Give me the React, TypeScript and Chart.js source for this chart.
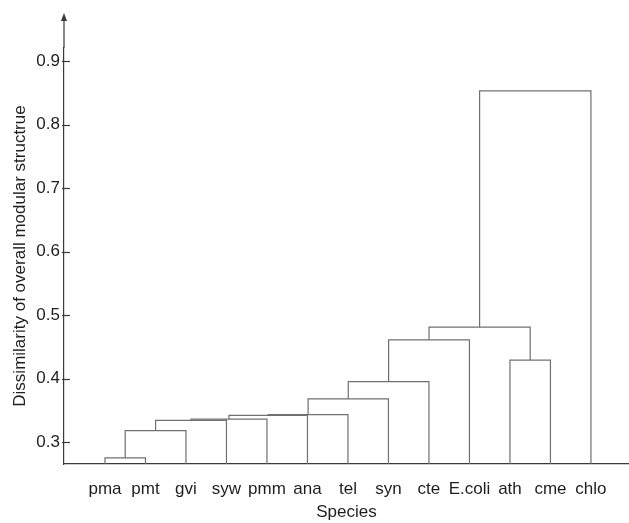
import { useEffect, useRef } from "react";
import { Chart, registerables } from "chart.js";

Chart.register(...registerables);

// Leaves in dendrogram order (x positions 0..12)
const leaves = ["pma", "pmt", "gvi", "syw", "pmm", "ana", "tel", "syn", "cte", "E.coli", "ath", "cme", "chlo"];

// Linkage: ids < leaves.length are leaves, id leaves.length + k is merge k
const mergeLeft = [0, 13, 14, 15, 16, 17, 18, 19, 20, 10, 21, 23];
const mergeRight = [1, 2, 3, 4, 5, 6, 7, 8, 9, 11, 22, 12];
const mergeHeight = [0.275, 0.318, 0.334, 0.336, 0.342, 0.343, 0.368, 0.395, 0.461, 0.429, 0.481, 0.853];

const yTicks = [0.3, 0.4, 0.5, 0.6, 0.7, 0.8, 0.9];
const yMin = 0.2654;
const yMax = 0.9205;
const xMin = -1.012;
const xMax = 12.94;

const yTitle = "Dissimilarity of overall modular structrue";
const xTitle = "Species";

const FONT = "'Liberation Sans', Arial, Helvetica, sans-serif";
const TEXT = "#1e1e1e";
const AXIS = "#3a3a3a";
const LINK = "#707070";

function buildLinks() {
  const pos: number[] = leaves.map((_, i) => i);
  const hgt: number[] = leaves.map(() => yMin);
  const sets: { x: number; y: number }[][] = [];
  mergeHeight.forEach((h, k) => {
    const l = mergeLeft[k];
    const r = mergeRight[k];
    sets.push([
      { x: pos[l], y: hgt[l] },
      { x: pos[l], y: h },
      { x: pos[r], y: h },
      { x: pos[r], y: hgt[r] },
    ]);
    pos.push((pos[l] + pos[r]) / 2);
    hgt.push(h);
  });
  return sets;
}

const axisDecor = {
  id: "axisDecor",
  afterDraw(chart: any) {
    const { ctx, chartArea, scales } = chart;
    const x0 = chartArea.left;
    const tip = chartArea.top - 35;
    ctx.save();
    ctx.strokeStyle = AXIS;
    ctx.fillStyle = AXIS;
    ctx.lineWidth = 1.2;
    ctx.beginPath();
    ctx.moveTo(x0, chartArea.top);
    ctx.lineTo(x0, tip + 6);
    ctx.stroke();
    ctx.beginPath();
    ctx.moveTo(x0, tip);
    ctx.lineTo(x0 - 3, tip + 8);
    ctx.lineTo(x0 + 3, tip + 8);
    ctx.closePath();
    ctx.fill();
    scales.y.ticks.forEach((t: any) => {
      const py = Math.round(scales.y.getPixelForValue(t.value)) + 0.5;
      ctx.beginPath();
      ctx.moveTo(x0 - 2, py);
      ctx.lineTo(x0 + 6, py);
      ctx.stroke();
    });
    ctx.restore();
  },
};

export default function App() {
  const ref = useRef<HTMLCanvasElement>(null);
  useEffect(() => {
    if (!ref.current) return;
    const links = buildLinks();
    const chart = new Chart(ref.current, {
      type: "scatter",
      data: {
        datasets: links.map((pts) => ({
          data: pts,
          showLine: true,
          borderColor: LINK,
          borderWidth: 1.2,
          pointRadius: 0,
          tension: 0,
          fill: false,
        })),
      },
      options: {
        animation: false,
        responsive: false,
        layout: { padding: { top: 48, left: 0, right: 0, bottom: 0 } },
        plugins: { legend: { display: false }, tooltip: { enabled: false } },
        scales: {
          x: {
            type: "linear",
            min: xMin,
            max: xMax,
            grid: { display: false, drawTicks: false },
            border: { display: true, color: AXIS, width: 1.2 },
            afterBuildTicks: (s: any) => {
              s.ticks = leaves.map((_, i) => ({ value: i }));
            },
            afterFit: (s: any) => {
              s.height = 59;
            },
            ticks: {
              autoSkip: false,
              maxRotation: 0,
              minRotation: 0,
              padding: 15,
              color: TEXT,
              font: { family: FONT, size: 17 },
              callback: (v: any) => leaves[Math.round(Number(v))] ?? "",
            },
            title: {
              display: true,
              text: xTitle,
              color: TEXT,
              font: { family: FONT, size: 17 },
              padding: { top: 0, bottom: 0 },
            },
          },
          y: {
            type: "linear",
            min: yMin,
            max: yMax,
            grid: { display: false, drawTicks: false },
            border: { display: true, color: AXIS, width: 1.2 },
            afterBuildTicks: (s: any) => {
              s.ticks = yTicks.map((v) => ({ value: v }));
            },
            afterFit: (s: any) => {
              s.width = 64;
            },
            ticks: {
              padding: 4,
              color: TEXT,
              font: { family: FONT, size: 17 },
              callback: (v: any) => Number(v).toFixed(1),
            },
            title: {
              display: true,
              text: yTitle,
              color: TEXT,
              font: { family: FONT, size: 17 },
              padding: { top: 10, bottom: 0 },
            },
          },
        },
      },
      plugins: [axisDecor],
    });
    return () => chart.destroy();
  }, []);
  return (
    <div style={{ position: "absolute", left: 0, top: 0, width: 629, height: 523, background: "#fff" }}>
      <canvas ref={ref} width={629} height={523} style={{ display: "block" }} />
    </div>
  );
}
